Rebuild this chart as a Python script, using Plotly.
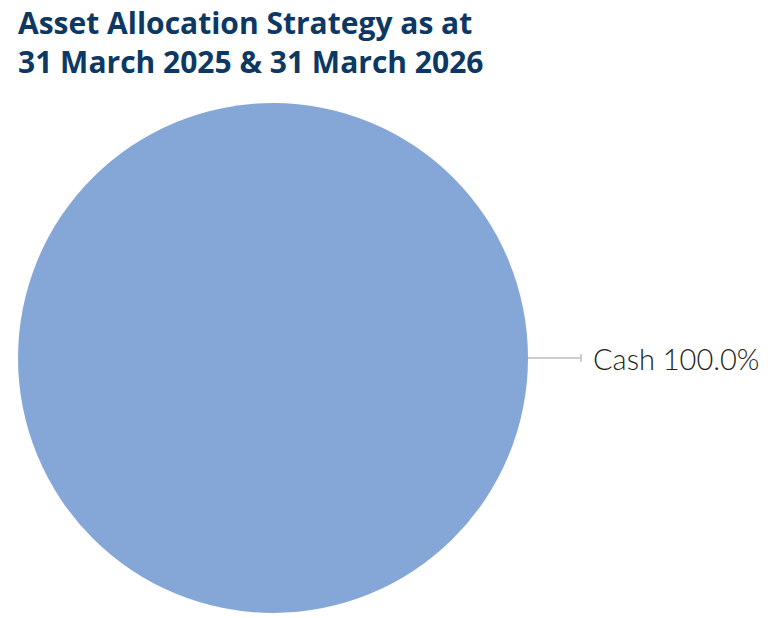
import plotly.graph_objects as go

# Data
labels = ["Cash"]
values = [100.0]
colors = ["#85A7D7"]
title_lines = ["Asset Allocation Strategy as at", "31 March 2025 & 31 March 2026"]

W, H = 779, 618
# pie geometry (pixels)
cx, cy, r = 273, 358, 255

fig = go.Figure()
fig.add_trace(go.Pie(
    labels=labels, values=values,
    marker=dict(colors=colors, line=dict(width=0)),
    textinfo="none", hoverinfo="label+percent", sort=False,
    direction="clockwise", rotation=90, showlegend=False,
    domain=dict(x=[(cx - r) / W, (cx + r) / W], y=[(H - cy - r) / H, (H - cy + r) / H]),
))

total = sum(values)
px = lambda x: x / W
py = lambda y: (H - y) / H

shapes = []
annotations = []
for lab, v in zip(labels, values):
    pct = v / total * 100
    x0 = cx + r
    x1 = x0 + 53
    shapes.append(dict(type="line", xref="paper", yref="paper", x0=px(x0), x1=px(x1), y0=py(cy), y1=py(cy),
                       line=dict(color="#BDBDBD", width=1.5)))
    shapes.append(dict(type="line", xref="paper", yref="paper", x0=px(x1), x1=px(x1), y0=py(cy - 4), y1=py(cy + 4),
                       line=dict(color="#BDBDBD", width=1.5)))
    annotations.append(dict(xref="paper", yref="paper", x=px(x1 + 10), y=py(cy), xanchor="left", yanchor="middle",
                            text=f"{lab} {pct:.1f}%", showarrow=False,
                            font=dict(family="Lato", size=29, weight=300, color="#231F20")))

annotations.append(dict(xref="paper", yref="paper", x=px(16), y=1, xanchor="left", yanchor="top",
                        text="<br>".join(title_lines), showarrow=False, align="left",
                        font=dict(family="Open Sans", size=30, weight=700, color="#0D3863")))

fig.update_layout(
    width=W, height=H, margin=dict(l=0, r=0, t=0, b=0),
    paper_bgcolor="white", plot_bgcolor="white",
    shapes=shapes, annotations=annotations,
)
fig.write_html("out.html", config={"displayModeBar": False},
               post_script="document.body.style.margin='0';")
